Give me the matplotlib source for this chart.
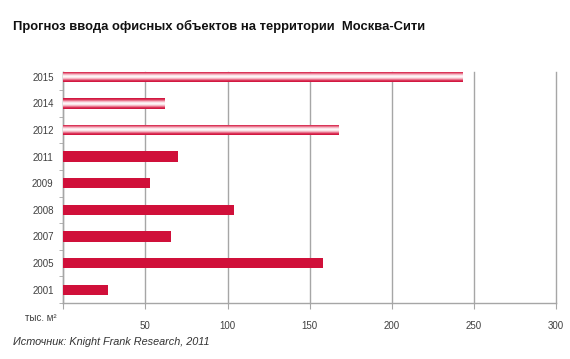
import numpy as np
import matplotlib
matplotlib.use("Agg")
import matplotlib.pyplot as plt
from matplotlib.colors import LinearSegmentedColormap

plt.rcParams['font.family'] = ['Liberation Sans', 'DejaVu Sans']

# data, bottom to top
years = ['2001', '2005', '2007', '2008', '2009', '2011', '2012', '2014', '2015']
values = [27, 158, 65.5, 104, 52.5, 70, 168, 62, 243]
forecast = [False, False, False, False, False, False, True, True, True]

title = 'Прогноз ввода офисных объектов на территории  Москва-Сити'
source = 'Источник: Knight Frank Research, 2011'
unit = 'тыс. м²'
xticks = [0, 50, 100, 150, 200, 250, 300]

RED = '#d0103a'
GRID = '#a6a6a6'

fig = plt.figure(figsize=(5.70, 3.59), dpi=100)
ax = fig.add_axes([63.3 / 570, 1 - 303 / 359, (556 - 63.3) / 570, (303 - 71.8) / 359])

y = np.arange(len(years))
bars = ax.barh(y, values, height=0.39, color=RED, zorder=3)

# stripes for forecast bars: red edges, pink/white inside
stripe = LinearSegmentedColormap.from_list(
    'stripe', ['#d0103a', '#d82a50', '#ee8ea2', '#fbdde3', '#ffffff',
               '#fbdde3', '#ee8ea2', '#d82a50', '#d0103a'])
grad = np.linspace(0, 1, 64).reshape(-1, 1)
for b, f in zip(bars, forecast):
    if not f:
        continue
    b.set_facecolor('none')
    b.set_edgecolor('none')
    x0, y0 = b.get_x(), b.get_y()
    im = ax.imshow(grad, cmap=stripe, aspect='auto', interpolation='bilinear',
                   extent=[x0, x0 + b.get_width(), y0, y0 + b.get_height()], zorder=3)
    im.set_clip_path(b)

ax.set_xticks(xticks)
ax.set_xticklabels([''] + [str(t) for t in xticks[1:]])
ax.set_yticks(y)
ax.set_yticklabels(years)
ax.set_yticks(np.arange(-0.5, len(years) - 1, 1), minor=True)

ax.set_xlim(0, 300)
ax.set_ylim(-0.5, 8.19)

ax.grid(axis='x', color=GRID, linewidth=1, zorder=0)
for gl in ax.get_xgridlines():
    gl.set_clip_on(False)
for s in ['top', 'right']:
    ax.spines[s].set_visible(False)
for s in ['left', 'bottom']:
    ax.spines[s].set_color(GRID)
    ax.spines[s].set_linewidth(1)

ax.tick_params(axis='y', which='major', length=0, pad=7, labelsize=7, labelcolor='#404040')
ax.tick_params(axis='y', which='minor', length=3, color=GRID)
ax.tick_params(axis='x', length=4, color=GRID, pad=9, labelsize=7, labelcolor='#404040')

fig.text(41 / 570, 1 - 318 / 359, unit, ha='center', va='center', fontsize=7, color='#404040')
fig.text(13 / 570, 1 - 26 / 359, title, ha='left', va='center', fontsize=9.4, fontweight='bold', color='#111111')
fig.text(13 / 570, 1 - 342 / 359, source, ha='left', va='center', fontsize=7.8, style='italic', color='#333333')

fig.savefig('out.png', dpi=100)
